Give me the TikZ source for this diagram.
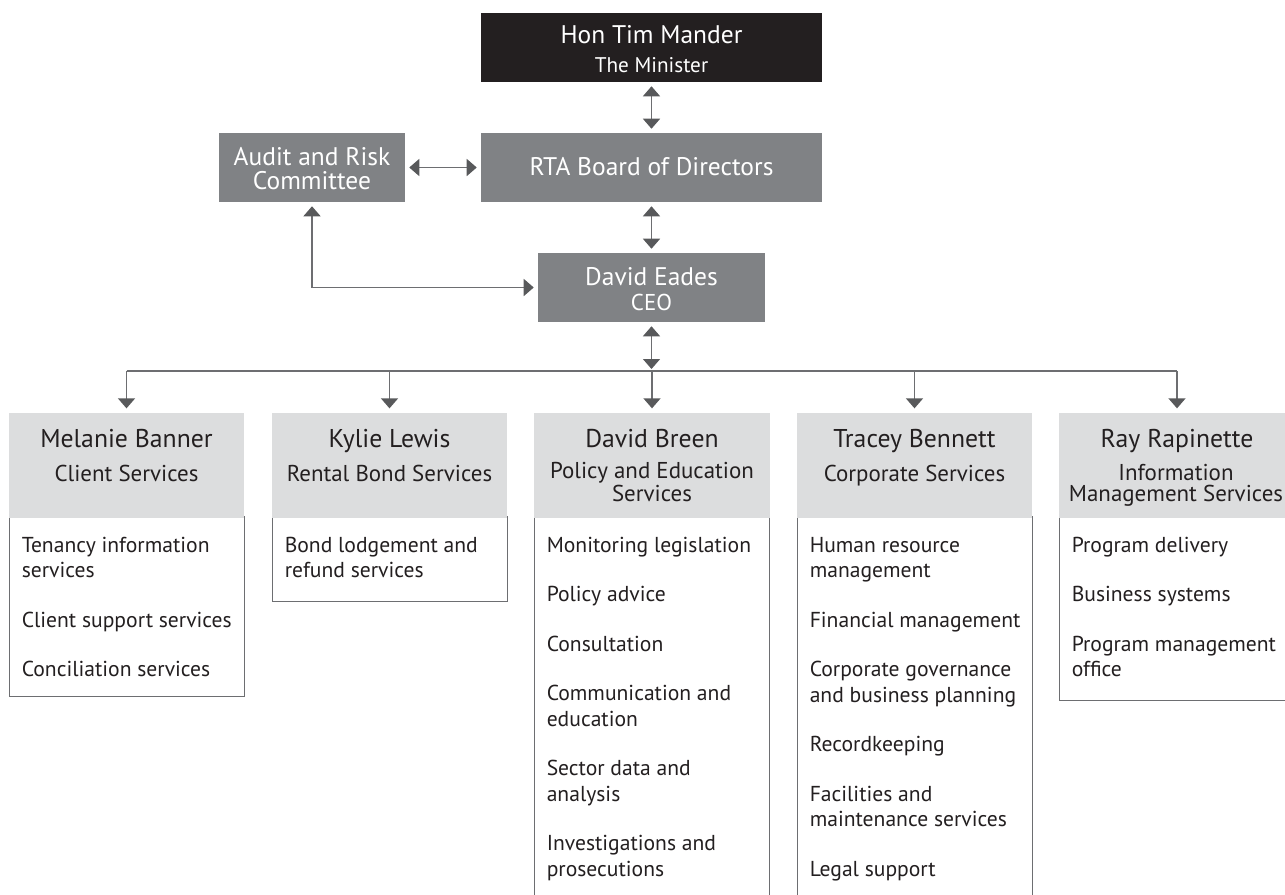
\documentclass[tikz,border=0pt]{standalone}
\usepackage{fontspec}
\setmainfont{PT Sans}
\usetikzlibrary{arrows.meta}
\definecolor{boxgray}{HTML}{808285}
\definecolor{hdrgray}{HTML}{DCDDDE}
\definecolor{inkblack}{HTML}{231F20}
\definecolor{tipgray}{HTML}{58595B}
\definecolor{linegray}{HTML}{6D6E71}
\begin{document}
\begin{tikzpicture}[x=0.75pt,y=-0.75pt,
  topbox/.style={fill=boxgray, draw=none, inner sep=0pt, minimum height=51.75pt},
  whitetxt/.style={text=white, inner sep=0pt, align=center},
  bigfont/.style={font=\fontsize{19.1}{16.5}\selectfont},
  hdrbox/.style={fill=hdrgray, draw=none, inner sep=0pt, minimum width=176.5pt, minimum height=78.75pt, anchor=north},
  bodybox/.style={draw=linegray, line width=1pt, fill=white, inner sep=0pt, minimum width=176.25pt, anchor=north west},
  nametxt/.style={text=inkblack, inner sep=0pt, anchor=base, font=\fontsize{19.3}{20}\selectfont},
  subtxt/.style={text=inkblack, inner sep=0pt, anchor=base, align=center, font=\fontsize{17.2}{15.75}\selectfont},
  itemtxt/.style={text=inkblack, inner sep=0pt, anchor=base west, align=left, font=\fontsize{16.2}{19.1}\selectfont},
  conn/.style={draw=linegray, line width=1pt},
  biarrow/.style={conn, {Triangle[width=12.75pt,length=7.5pt,color=tipgray]}-{Triangle[width=12.75pt,length=7.5pt,color=tipgray]}, shorten <=3pt, shorten >=3pt},
  downarrow/.style={conn, -{Triangle[width=12.75pt,length=7.5pt,color=tipgray]}, shorten >=3.5pt}
]
\useasboundingbox (0,0) rectangle (1285,894);
\clip (0,0) rectangle (1285,894);

% top level boxes
\node[topbox, fill=inkblack, minimum width=255.75pt] (min) at (651.5,47.5) {};
\node[whitetxt, anchor=base, bigfont] (minA) at (651.5,43) {Hon Tim Mander};
\node[whitetxt, anchor=base, font=\fontsize{15.9}{16}\selectfont] (minB) at (651.5,72) {The Minister};

\node[topbox, minimum width=255.75pt] (brd) at (651.5,167.5) {};
\node[whitetxt, anchor=base, bigfont] (brdA) at (651.5,175) {RTA Board of Directors};

\node[topbox, minimum width=139.5pt] (aud) at (312,167.5) {};
\node[whitetxt, anchor=base, bigfont] (audA) at (312,165) {Audit and Risk};
\node[whitetxt, anchor=base, bigfont] (audB) at (312,189) {Committee};

\node[topbox, minimum width=170.25pt] (ceo) at (651.5,287.5) {};
\node[whitetxt, anchor=base, bigfont] (ceoA) at (651.5,285) {David Eades};
\node[whitetxt, anchor=base, font=\fontsize{17.2}{17}\selectfont] (ceoB) at (651.5,310) {CEO};

% bodies (drawn first, headers cover their top edge)
\node[bodybox, minimum height=135pt] (b1) at (9,516) {};
\node[bodybox, minimum height=63.75pt] (b2) at (272,516) {};
\node[bodybox, minimum height=300pt] (b3) at (534,516) {};
\node[bodybox, minimum height=300pt] (b4) at (797,516) {};
\node[bodybox, minimum height=138pt] (b5) at (1059,516) {};

% headers
\node[hdrbox] (h1) at (126.5,413) {};
\node[hdrbox] (h2) at (389.5,413) {};
\node[hdrbox] (h3) at (652,413) {};
\node[hdrbox] (h4) at (914.5,413) {};
\node[hdrbox] (h5) at (1177,413) {};

\node[nametxt] (n1) at (126.5,447) {Melanie Banner};
\node[subtxt] (s1) at (126.5,481) {Client Services};
\node[nametxt] (n2) at (389.5,447) {Kylie Lewis};
\node[subtxt] (s2) at (389.5,481) {Rental Bond Services};
\node[nametxt] (n3) at (652,447) {David Breen};
\node[subtxt] (s3) at (652,501) {Policy and Education\\Services};
\node[nametxt] (n4) at (914.5,447) {Tracey Bennett};
\node[subtxt] (s4) at (914.5,481) {Corporate Services};
\node[nametxt] (n5) at (1177,447) {Ray Rapinette};
\node[subtxt] (s5) at (1176,501) {Information\\Management Services};

% items (anchored at the baseline of their last line)
\node[itemtxt] (i1) at (21.5,676.5) {Tenancy information\\services\\[18pt]Client support services\\[18pt]Conciliation services};
\node[itemtxt] (i2) at (284.5,577.5) {Bond lodgement and\\refund services};
\node[itemtxt] (i3) at (546.5,876) {Monitoring legislation\\[18pt]Policy advice\\[18pt]Consultation\\[18pt]Communication and\\education\\[18pt]Sector data and\\analysis\\[18pt]Investigations and\\prosecutions};
\node[itemtxt] (i4) at (809.5,876) {Human resource\\management\\[18pt]Financial management\\[18pt]Corporate governance\\and business planning\\[18pt]Recordkeeping\\[18pt]Facilities and\\maintenance services\\[18pt]Legal support};
\node[itemtxt] (i5) at (1071.5,676.5) {Program delivery\\[18pt]Business systems\\[18pt]Program management\\office};

% connectors
\draw[biarrow] (min.south) -- (brd.north);
\draw[biarrow] (aud.east) -- (brd.west);
\draw[biarrow] (brd.south) -- (ceo.north);
\draw[biarrow] (aud.south) |- (ceo.west);

\coordinate (bus) at (651.5,371);
\draw[biarrow, shorten >=1.5pt] (ceo.south) -- (bus);
\draw[conn] (h1.north |- bus) -- (h5.north |- bus);
\foreach \h in {h1,h2,h3,h4,h5} {
  \draw[downarrow] (\h.north |- bus) -- (\h.north);
}
\end{tikzpicture}
\end{document}
